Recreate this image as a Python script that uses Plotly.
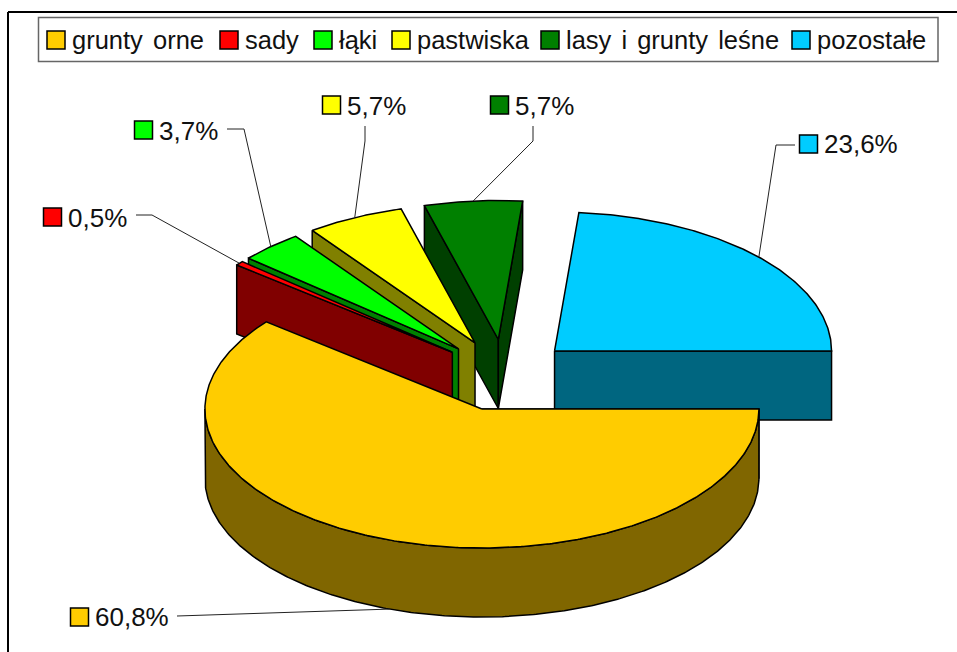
import numpy as np
import plotly.graph_objects as go

# --- data ---
categories = ["grunty orne", "sady", "łąki", "pastwiska", "lasy i grunty leśne", "pozostałe"]
values = [60.8, 0.5, 3.7, 5.7, 5.7, 23.6]
value_labels = ["60,8%", "0,5%", "3,7%", "5,7%", "5,7%", "23,6%"]
colors = ["#FFCC00", "#FF0000", "#00FF00", "#FFFF00", "#008000", "#00CCFF"]

# --- pie geometry (layout, pixels of the 957x652 page) ---
CX, CY, RX, RY, DEPTH = 504.5, 375.2, 277, 139, 69
EXPLODE_X, EXPLODE_Y = 0.245, 0.258
LEG_FONT = dict(family="Liberation Sans, Arial", size=25.5, color="#111111")
LAB_FONT = dict(family="Liberation Sans, Arial", size=26, color="#111111")

# legend layout
LEG_TEXT_X = [72, 245, 339, 417, 566, 817]
LEG_Y = 40
# data label layout: swatch-left x, y centre, leader polyline start + elbow
LAB_X = [70, 43, 134, 322, 490, 799]
LAB_Y = [617, 217, 130, 105, 105, 144]
LAB_TEXT_DY = [0, 1, 1, 1, 1, 0]
LEADER_START = [(177, 616), (136, 215), (227, 129), (365, 126), (533, 126), (795, 145)]
LEADER_ELBOW = [(177, 616), (152, 215), (244, 129), (365, 141), (533, 141), (776, 145)]


def shade(hex_color):
    r, g, b = (int(hex_color[i:i + 2], 16) for i in (1, 3, 5))
    return f"rgb({round(r / 2)},{round(g / 2)},{round(b / 2)})"


def rim(cx, cy, a0, a1, dy=0):
    t = np.radians(np.linspace(a0, a1, max(int(abs(a1 - a0) * 2), 2)))
    return cx + RX * np.cos(t), cy + RY * np.sin(t) + dy


fig = go.Figure()


def poly(xs, ys, fill, name):
    fig.add_trace(go.Scatter(
        x=np.r_[xs, xs[0]], y=np.r_[ys, ys[0]], mode="lines", fill="toself",
        fillcolor=fill, line=dict(color="black", width=1.5), hoverinfo="text",
        text=name, showlegend=False))


# angles are degrees clockwise from 3 o'clock, screen y grows downwards
edges = np.r_[0, np.cumsum(values)] * 3.6
mids = (edges[:-1] + edges[1:]) / 2
centers = [(CX + EXPLODE_X * RX * np.cos(np.radians(m)), CY + EXPLODE_Y * RY * np.sin(np.radians(m))) for m in mids]

# paint from back to front: last slice first, first (front) slice last
for i in range(len(values) - 1, -1, -1):
    cx, cy = centers[i]
    a0, a1 = edges[i], edges[i + 1]
    side = shade(colors[i])
    name = f"{categories[i]}: {value_labels[i]}"
    for a, sign in ((a0, -1), (a1, 1)):
        # outward normal of the cut face: visible when it points down on screen
        if sign * np.cos(np.radians(a)) > 1e-9 or (a == 0 and sign == -1):
            ex, ey = rim(cx, cy, a, a)
            ex, ey = ex[0], ey[0]
            poly(np.array([cx, ex, ex, cx]), np.array([cy, ey, ey + DEPTH, cy + DEPTH]), side, name)
    if a0 < 180:
        hi = min(a1, 180)
        tx, ty = rim(cx, cy, a0, hi)
        poly(np.r_[tx, tx[::-1]], np.r_[ty, ty[::-1] + DEPTH], side, name)
    rx_, ry_ = rim(cx, cy, a0, a1)
    poly(np.r_[cx, rx_], np.r_[cy, ry_], colors[i], name)

# leader lines: end on the rim of each slice, or its wall for the front slice
for i in range(len(values)):
    cx, cy = centers[i]
    ex, ey = rim(cx, cy, mids[i], mids[i])
    dy = DEPTH if i == 0 else 0
    fig.add_trace(go.Scatter(
        x=[LEADER_START[i][0], LEADER_ELBOW[i][0], ex[0]],
        y=[LEADER_START[i][1], LEADER_ELBOW[i][1], ey[0] + dy],
        mode="lines", line=dict(color="#222222", width=1), hoverinfo="skip", showlegend=False))

# swatches for data labels and legend
fig.add_trace(go.Scatter(
    x=[x + 9.5 for x in LAB_X] + [x - 16 for x in LEG_TEXT_X],
    y=LAB_Y + [LEG_Y] * len(categories),
    mode="markers",
    marker=dict(symbol="square", size=18, color=colors + colors, line=dict(color="black", width=1.5)),
    hoverinfo="skip", showlegend=False))

annotations = []
for i, t in enumerate(value_labels):
    annotations.append(dict(x=LAB_X[i] + 25, y=LAB_Y[i] + LAB_TEXT_DY[i], text=t, xref="x", yref="y", showarrow=False,
                            xanchor="left", yanchor="middle", align="left", font=LAB_FONT, borderpad=0, borderwidth=0))
for i, t in enumerate(categories):
    annotations.append(dict(x=LEG_TEXT_X[i], y=LEG_Y, text=t, xref="x", yref="y", showarrow=False,
                            xanchor="left", yanchor="middle", align="left", font=LEG_FONT, borderpad=0, borderwidth=0))

fig.update_layout(
    width=957, height=652, margin=dict(l=0, r=0, t=0, b=0),
    paper_bgcolor="white", plot_bgcolor="white", showlegend=False,
    xaxis=dict(range=[0, 957], visible=False, fixedrange=True),
    yaxis=dict(range=[652, 0], visible=False, fixedrange=True),
    annotations=annotations,
    shapes=[
        dict(type="line", x0=8, x1=957, y0=12, y1=12, line=dict(color="black", width=2), layer="below"),
        dict(type="line", x0=8, x1=8, y0=12, y1=652, line=dict(color="black", width=2), layer="below"),
        dict(type="rect", x0=38.5, x1=938, y0=17.5, y1=61.5, line=dict(color="#666666", width=1.5), layer="below"),
    ],
)
fig.write_html("out.html", config=dict(displayModeBar=False),
               post_script="document.body.style.margin='0';document.documentElement.style.overflow='hidden';"
                           "document.querySelectorAll('.annotation-text').forEach(function(e){e.style.wordSpacing='3px';});")
